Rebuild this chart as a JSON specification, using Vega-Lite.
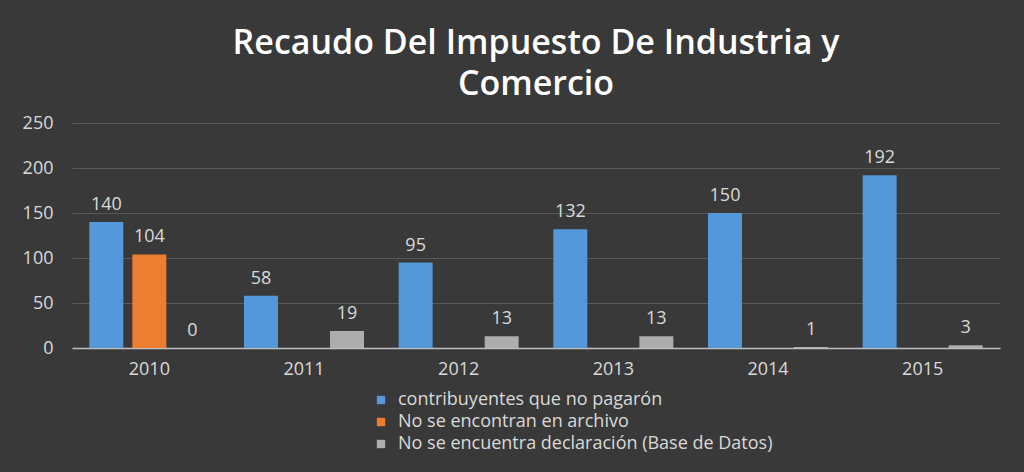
{
  "$schema": "https://vega.github.io/schema/vega-lite/v6.json",
  "width": 928,
  "height": 225,
  "autosize": {"type": "none"},
  "padding": {"left": 72, "top": 123, "right": 24, "bottom": 124},
  "background": "#393939",
  "title": {
    "text": ["Recaudo Del Impuesto De Industria y", "Comercio"],
    "font": "Open Sans",
    "fontSize": 34,
    "fontWeight": 600,
    "color": "#ffffff",
    "lineHeight": 41,
    "anchor": "middle",
    "offset": 12
  },
  "data": {
    "values": [
      {"year": "2010", "serie": "contribuyentes que no  pagarón", "valor": 140},
      {"year": "2010", "serie": "No se encontran en archivo", "valor": 104},
      {"year": "2010", "serie": "No se encuentra declaración (Base de Datos)", "valor": 0},
      {"year": "2011", "serie": "contribuyentes que no  pagarón", "valor": 58},
      {"year": "2011", "serie": "No se encuentra declaración (Base de Datos)", "valor": 19},
      {"year": "2012", "serie": "contribuyentes que no  pagarón", "valor": 95},
      {"year": "2012", "serie": "No se encuentra declaración (Base de Datos)", "valor": 13},
      {"year": "2013", "serie": "contribuyentes que no  pagarón", "valor": 132},
      {"year": "2013", "serie": "No se encuentra declaración (Base de Datos)", "valor": 13},
      {"year": "2014", "serie": "contribuyentes que no  pagarón", "valor": 150},
      {"year": "2014", "serie": "No se encuentra declaración (Base de Datos)", "valor": 1},
      {"year": "2015", "serie": "contribuyentes que no  pagarón", "valor": 192},
      {"year": "2015", "serie": "No se encuentra declaración (Base de Datos)", "valor": 3}
    ]
  },
  "encoding": {
    "x": {
      "field": "year", "type": "nominal",
      "scale": {"paddingInner": 0.224, "paddingOuter": 0.112},
      "axis": {
        "title": null, "labelAngle": 0, "ticks": false, "domain": true,
        "domainColor": "#BFBFBF", "domainWidth": 1.5,
        "labelFont": "Open Sans", "labelFontSize": 18, "labelColor": "#D9D9D9", "labelPadding": 12
      }
    },
    "xOffset": {
      "field": "serie", "type": "nominal",
      "scale": {
        "domain": ["contribuyentes que no  pagarón", "No se encontran en archivo", "No se encuentra declaración (Base de Datos)"],
        "paddingInner": 0.21, "paddingOuter": 0
      }
    },
    "y": {
      "field": "valor", "type": "quantitative",
      "scale": {"domain": [0, 250]},
      "axis": {
        "title": null, "values": [0, 50, 100, 150, 200, 250], "ticks": false, "domain": false,
        "gridColor": "#585858", "gridWidth": 1,
        "labelFont": "Open Sans", "labelFontSize": 18, "labelColor": "#D9D9D9", "labelPadding": 19
      }
    }
  },
  "layer": [
    {
      "mark": {"type": "bar"},
      "encoding": {
        "color": {
          "field": "serie", "type": "nominal",
          "scale": {
            "domain": ["contribuyentes que no  pagarón", "No se encontran en archivo", "No se encuentra declaración (Base de Datos)"],
            "range": ["#5598DA", "#ED7D31", "#ADADAD"]
          },
          "legend": {
            "title": null, "orient": "none", "legendX": 300, "legendY": 268,
            "direction": "vertical", "symbolType": "square", "symbolSize": 70,
            "symbolStrokeWidth": 0, "rowPadding": 4, "labelOffset": 8,
            "labelFont": "Open Sans", "labelFontSize": 18, "labelColor": "#D9D9D9", "labelLimit": 600
          }
        }
      }
    },
    {
      "mark": {"type": "text", "baseline": "bottom", "dy": -8, "font": "Open Sans", "fontSize": 18, "color": "#D9D9D9"},
      "encoding": {"text": {"field": "valor", "type": "quantitative"}}
    }
  ],
  "config": {"view": {"stroke": null}}
}
